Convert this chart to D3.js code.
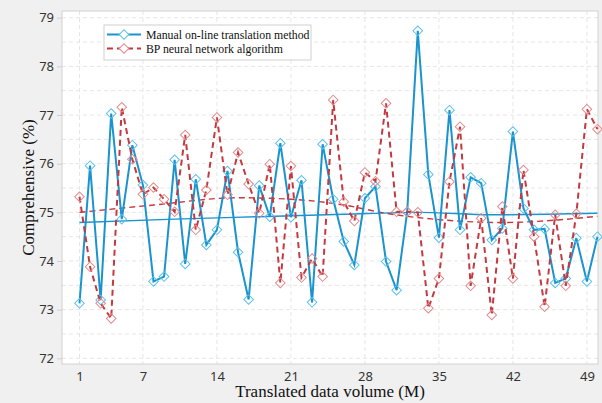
<!DOCTYPE html>
<html>
<head>
<meta charset="utf-8">
<script src="https://cdn.jsdelivr.net/npm/d3@7"></script>
<style>
  body { margin: 0; background: #f0f0f0; }
  svg { display: block; }
</style>
</head>
<body>
<svg width="602" height="403"></svg>
<script>
const svg = d3.select('svg');

const width = +svg.attr('width');
const height = +svg.attr('height');

// data
const volume = d3.range(1, 51);
const manualValues = [
  73.13, 75.96, 73.20, 77.03, 74.86, 76.38, 75.56, 73.58, 73.68, 76.08,
  73.94, 75.68, 74.33, 74.64, 75.85, 74.18, 73.21, 75.55, 74.91, 76.42,
  74.90, 75.66, 73.15, 76.40, 75.27, 74.40, 73.92, 75.29, 75.53, 73.99,
  73.40, 75.01, 78.73, 75.78, 74.48, 77.10, 74.64, 75.72, 75.60, 74.43,
  74.67, 76.66, 75.08, 74.64, 74.66, 73.55, 73.64, 74.47, 73.58, 74.50
];
const bpValues = [
  75.32, 73.88, 73.13, 72.82, 77.16, 76.09, 75.37, 75.51, 75.27, 75.01,
  76.59, 74.64, 75.46, 76.95, 75.36, 76.23, 75.58, 74.98, 75.99, 73.55,
  75.95, 73.66, 74.05, 73.68, 77.31, 75.22, 74.82, 75.82, 75.64, 77.24,
  75.01, 75.01, 75.00, 73.03, 73.64, 75.63, 76.76, 73.49, 74.88, 72.89,
  75.12, 73.64, 75.87, 74.50, 73.06, 74.95, 73.49, 74.97, 77.12, 76.71
];
// smoothed trend curves at a few volumes
const manualTrendX = [1, 10, 18, 26, 33, 40, 50];
const manualTrend = [74.79, 74.86, 74.91, 74.96, 75.0, 74.95, 74.98];
const bpTrendX = [1, 8, 16, 21, 26, 30, 35, 41, 46, 50];
const bpTrend = [75.0, 75.15, 75.3, 75.27, 75.15, 74.98, 74.85, 74.79, 74.84, 74.92];

const seriesNames = ['Manual on-line translation method', 'BP neural network algorithm'];
const xTicks = [1, 7, 14, 21, 28, 35, 42, 49];
const yTicks = [72, 73, 74, 75, 76, 77, 78, 79];
const yGrid = d3.range(72, 79.01, 0.5);

const blue = '#1a93cf';
const blueLight = '#5cc2ee';
const red = '#c4393f';
const redLight = '#e58c8e';

const margin = { top: 11, right: 4, bottom: 39, left: 62 };
const innerWidth = width - margin.left - margin.right;
const innerHeight = height - margin.top - margin.bottom;

const xScale = d3.scaleLinear()
  .domain([-0.655, 50.05])
  .range([0, innerWidth]);

const yScale = d3.scaleLinear()
  .domain([71.883, 79.138])
  .range([innerHeight, 0]);

svg.append('rect')
  .attr('width', width)
  .attr('height', height)
  .attr('fill', '#f0f0f0');

const g = svg.append('g')
  .attr('transform', `translate(${margin.left},${margin.top})`);

g.append('rect')
  .attr('width', innerWidth)
  .attr('height', innerHeight)
  .attr('fill', '#fff');

// grid
g.append('g').selectAll('line').data(yGrid)
  .enter().append('line')
    .attr('x1', 0).attr('x2', innerWidth)
    .attr('y1', d => yScale(d)).attr('y2', d => yScale(d))
    .attr('stroke', '#e6e6e6')
    .attr('stroke-dasharray', '4,3');

g.append('g').selectAll('line').data(xTicks)
  .enter().append('line')
    .attr('x1', d => xScale(d)).attr('x2', d => xScale(d))
    .attr('y1', 0).attr('y2', innerHeight)
    .attr('stroke', '#e6e6e6')
    .attr('stroke-dasharray', '4,3');

// axes
const yAxis = d3.axisLeft(yScale).tickValues(yTicks).tickSize(5).tickPadding(3);
const xAxis = d3.axisBottom(xScale).tickValues(xTicks).tickSize(0).tickPadding(8);

const yG = g.append('g').call(yAxis);
const xG = g.append('g').call(xAxis)
  .attr('transform', `translate(0,${innerHeight})`);

[yG, xG].forEach(a => {
  a.select('.domain').remove();
  a.selectAll('line').attr('stroke', '#cfcfcf');
  a.selectAll('text')
    .attr('fill', '#333')
    .style('font-family', '"Noto Sans", "Open Sans", sans-serif')
    .style('font-size', '13px');
});

g.append('rect')
  .attr('width', innerWidth)
  .attr('height', innerHeight)
  .attr('fill', 'none')
  .attr('stroke', '#d2d2d2');

// trend lines
const trendLine = xs => d3.line()
  .x((d, i) => xScale(xs[i]))
  .y(d => yScale(d))
  .curve(d3.curveMonotoneX);

g.append('path')
  .datum(manualTrend)
  .attr('fill', 'none')
  .attr('stroke', blue)
  .attr('stroke-width', 1.4)
  .attr('d', trendLine(manualTrendX));

g.append('path')
  .datum(bpTrend)
  .attr('fill', 'none')
  .attr('stroke', red)
  .attr('stroke-width', 1.4)
  .attr('stroke-dasharray', '6,4')
  .attr('d', trendLine(bpTrendX));

// series
const series = [
  { name: seriesNames[0], values: manualValues, color: blue, light: blueLight, dash: null },
  { name: seriesNames[1], values: bpValues, color: red, light: redLight, dash: '6,4' }
];

const line = d3.line()
  .x((d, i) => xScale(volume[i]))
  .y(d => yScale(d));

const diamond = d3.symbol().type(d3.symbolSquare).size(46);

series.forEach(s => {
  g.append('path')
    .datum(s.values)
    .attr('fill', 'none')
    .attr('stroke', s.color)
    .attr('stroke-width', 2)
    .attr('stroke-dasharray', s.dash)
    .attr('d', line);

  g.append('g').selectAll('path').data(s.values)
    .enter().append('path')
      .attr('d', diamond)
      .attr('transform', (d, i) => `translate(${xScale(volume[i])},${yScale(d)}) rotate(45)`)
      .attr('fill', 'none')
      .attr('stroke', s.light)
      .attr('stroke-width', 1);
});

// legend
const legend = svg.append('g').attr('transform', 'translate(104,25)');
legend.append('rect')
  .attr('width', 207)
  .attr('height', 35)
  .attr('fill', '#fff')
  .attr('stroke', '#d0d0d0');

series.forEach((s, i) => {
  const row = legend.append('g').attr('transform', `translate(0,${9.5 + i * 14})`);
  row.append('line')
    .attr('x1', 3).attr('x2', 37)
    .attr('stroke', s.color)
    .attr('stroke-width', 2)
    .attr('stroke-dasharray', s.dash);
  row.append('path')
    .attr('d', diamond)
    .attr('transform', 'translate(20,0) rotate(45)')
    .attr('fill', '#fff')
    .attr('stroke', s.light);
  row.append('text')
    .attr('x', 42)
    .attr('dy', '0.35em')
    .attr('fill', '#111')
    .style('font-family', '"Liberation Serif", "Times New Roman", serif')
    .style('font-size', '11.8px')
    .text(s.name);
});

// axis titles
svg.append('text')
  .attr('x', margin.left + innerWidth / 2)
  .attr('y', 397)
  .attr('text-anchor', 'middle')
  .attr('fill', '#111')
  .style('font-family', '"Liberation Serif", "Times New Roman", serif')
  .style('font-size', '17px')
  .text('Translated data volume (M)');

svg.append('text')
  .attr('transform', `translate(34,${margin.top + innerHeight / 2}) rotate(-90)`)
  .attr('text-anchor', 'middle')
  .attr('fill', '#111')
  .style('font-family', '"Liberation Serif", "Times New Roman", serif')
  .style('font-size', '17px')
  .text('Comprehensive (%)');
</script>
</body>
</html>
